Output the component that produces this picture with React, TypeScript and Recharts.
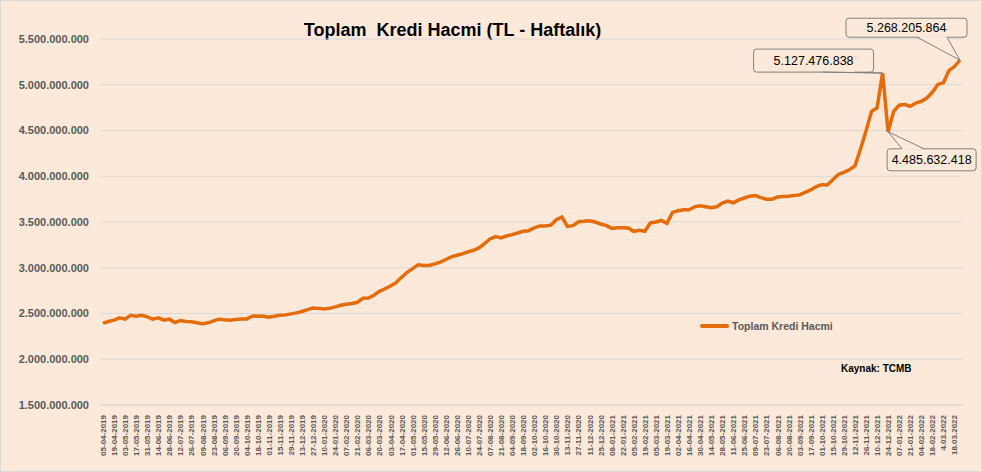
import { CartesianGrid, Line, LineChart, ReferenceDot, XAxis, YAxis } from "recharts";

const weeks2019 = "05-04 12-04 19-04 26-04 03-05 10-05 17-05 24-05 31-05 07-06 14-06 21-06 28-06 05-07 12-07 19-07 26-07 02-08 09-08 16-08 23-08 30-08 06-09 13-09 20-09 27-09 04-10 11-10 18-10 25-10 01-11 08-11 15-11 22-11 29-11 06-12 13-12 20-12 27-12"
  .split(" ")
  .map((d) => `${d}-2019`);
const weeks2020 = "03-01 10-01 17-01 24-01 31-01 07-02 14-02 21-02 28-02 06-03 13-03 20-03 27-03 03-04 10-04 17-04 24-04 01-05 08-05 15-05 22-05 29-05 05-06 12-06 19-06 26-06 03-07 10-07 17-07 24-07 31-07 07-08 14-08 21-08 28-08 04-09 11-09 18-09 25-09 02-10 09-10 16-10 23-10 30-10 06-11 13-11 20-11 27-11 04-12 11-12 18-12 25-12"
  .split(" ")
  .map((d) => `${d}-2020`);
const weeks2021 = "01-01 08-01 15-01 22-01 29-01 05-02 12-02 19-02 26-02 05-03 12-03 19-03 26-03 02-04 09-04 16-04 23-04 30-04 07-05 14-05 21-05 28-05 04-06 11-06 18-06 25-06 02-07 09-07 16-07 23-07 30-07 06-08 13-08 20-08 27-08 03-09 10-09 17-09 24-09 01-10 08-10 15-10 22-10 29-10 05-11 12-11 19-11 26-11 03-12 10-12 17-12 24-12 31-12"
  .split(" ")
  .map((d) => `${d}-2021`);
const weeks2022 = [
  "07-01-2022", "14-01-2022", "21-01-2022", "28-01-2022", "04-02-2022", "11-02-2022",
  "18-02-2022", "25-02-2022", "4.03.2022", "11.03.2022", "18.03.2022", "25.03.2022",
];
const dates = [...weeks2019, ...weeks2020, ...weeks2021, ...weeks2022];

// toplam kredi hacmi, milyar TL
const creditBn = [
  2.395, 2.413, 2.427, 2.452, 2.438, 2.481, 2.47, 2.481, 2.463, 2.438,
  2.452, 2.427, 2.438, 2.402, 2.424, 2.413, 2.409, 2.398, 2.387, 2.398,
  2.42, 2.438, 2.431, 2.427, 2.434, 2.441, 2.441, 2.47, 2.474, 2.47,
  2.46, 2.47, 2.481, 2.485, 2.496, 2.507, 2.522, 2.543, 2.56, 2.556,
  2.55, 2.558, 2.572, 2.59, 2.6, 2.61, 2.623, 2.666, 2.67, 2.7,
  2.742, 2.77, 2.8, 2.837, 2.895, 2.95, 2.99, 3.033, 3.025, 3.025,
  3.043, 3.061, 3.09, 3.12, 3.137, 3.152, 3.174, 3.191, 3.217, 3.264,
  3.315, 3.34, 3.326, 3.348, 3.362, 3.38, 3.398, 3.405, 3.435, 3.457,
  3.457, 3.465, 3.525, 3.554, 3.452, 3.46, 3.503, 3.507, 3.514, 3.5,
  3.478, 3.463, 3.43, 3.438, 3.438, 3.434, 3.398, 3.41, 3.398, 3.49,
  3.5, 3.517, 3.485, 3.605, 3.623, 3.634, 3.634, 3.666, 3.677, 3.666,
  3.655, 3.666, 3.706, 3.728, 3.71, 3.742, 3.762, 3.782, 3.789, 3.767,
  3.749, 3.749, 3.774, 3.778, 3.782, 3.789, 3.796, 3.825, 3.85, 3.886,
  3.908, 3.905, 3.962, 4.02, 4.042, 4.071, 4.114, 4.295, 4.494, 4.71,
  4.747, 5.127476838, 4.485632418, 4.71, 4.776, 4.783, 4.765, 4.8, 4.819, 4.855,
  4.917, 5.004, 5.022, 5.155, 5.199, 5.268205864,
];

const yTicks = [1.5e9, 2e9, 2.5e9, 3e9, 3.5e9, 4e9, 4.5e9, 5e9, 5.5e9];
const calloutIndexes = [155, 141, 142];

const BG = "#FDE9D9";
const ORANGE = "#E46C0A";
const GREY = "#595959";
const FONT = "'Liberation Sans', Arial, sans-serif";

const data = dates.map((d, i) => ({ date: d, value: Math.round(creditBn[i] * 1e9) }));

const fmt = (v: number) => String(Math.round(v)).replace(/\B(?=(\d{3})+(?!\d))/g, ".");

function DateTick({ x, y, payload }: any) {
  return (
    <g transform={`translate(${x},${y})`}>
      <text
        transform="rotate(-90)"
        x={-2}
        dy={3}
        textAnchor="end"
        fontSize={8}
        fontWeight="bold"
        fill={GREY}
        fontFamily={FONT}
      >
        {payload.value}
      </text>
    </g>
  );
}

// callout box layout relative to its point: box x/y range, pointer base on edge
const calloutLayout: Record<number, { bx: number[]; by: number[]; base: number[]; edge: "top" | "bottom" }> = {
  155: { bx: [-114, 7], by: [-42, -23], base: [-43, -13], edge: "bottom" },
  141: { bx: [-129, -9], by: [-24, -1], base: [-60, -28], edge: "bottom" },
  142: { bx: [-1, 88], by: [17, 39], base: [14, 36], edge: "top" },
};

function Callout({ cx, cy, idx }: any) {
  const l = calloutLayout[idx];
  const x0 = cx + l.bx[0];
  const x1 = cx + l.bx[1];
  const y0 = cy + l.by[0];
  const y1 = cy + l.by[1];
  const ey = l.edge === "bottom" ? y1 : y0;
  const inner = l.edge === "bottom" ? -1 : 1;
  return (
    <g>
      <rect x={x0} y={y0} width={x1 - x0} height={y1 - y0} rx={3} fill={BG} stroke="#7f7f7f" />
      <polygon
        points={`${cx + l.base[0]},${ey + inner} ${cx + l.base[1]},${ey + inner} ${cx},${cy}`}
        fill={BG}
      />
      <polyline
        points={`${cx + l.base[0]},${ey} ${cx},${cy} ${cx + l.base[1]},${ey}`}
        fill="none"
        stroke="#7f7f7f"
      />
      <text
        x={(x0 + x1) / 2}
        y={(y0 + y1) / 2 + 4.5}
        textAnchor="middle"
        fontSize={12.5}
        fill="#000"
        fontFamily={FONT}
      >
        {fmt(data[idx].value)}
      </text>
    </g>
  );
}

export default function App() {
  return (
    <div
      style={{
        position: "absolute",
        left: 0,
        top: 0,
        width: 982,
        height: 472,
        background: BG,
        boxSizing: "border-box",
        border: "1px solid #d9d9d9",
        fontFamily: FONT,
      }}
    >
      <div
        style={{
          position: "absolute",
          left: 0,
          width: 903,
          top: 19,
          textAlign: "center",
          fontSize: 18,
          fontWeight: "bold",
          color: "#000",
          whiteSpace: "pre",
        }}
      >
        {"Toplam  Kredi Hacmi (TL - Haftalık)"}
      </div>
      <div style={{ position: "absolute", left: 0, top: 0 }}>
        <LineChart width={980} height={470} data={data} margin={{ top: 38, right: 18, left: -1, bottom: 0 }}>
          <CartesianGrid horizontal vertical={false} stroke="#d9d9d9" />
          <XAxis
            dataKey="date"
            interval={1}
            tick={<DateTick />}
            tickLine={false}
            axisLine={{ stroke: "#d9d9d9" }}
            height={66}
            padding={{ left: 3, right: 3 }}
          />
          <YAxis
            domain={[1.5e9, 5.5e9]}
            ticks={yTicks}
            tickFormatter={fmt}
            width={100}
            axisLine={false}
            tickLine={false}
            tickMargin={5}
            tick={{ fontSize: 11, fontWeight: "bold", fill: GREY, fontFamily: FONT }}
          />
          <Line
            type="linear"
            dataKey="value"
            stroke={ORANGE}
            strokeWidth={3.5}
            dot={false}
            isAnimationActive={false}
          />
          {calloutIndexes.map((i) => (
            <ReferenceDot
              key={i}
              x={dates[i]}
              y={data[i].value}
              ifOverflow="visible"
              shape={(p: any) => <Callout {...p} idx={i} />}
            />
          ))}
        </LineChart>
      </div>
      <div style={{ position: "absolute", left: 699, top: 319, display: "flex", alignItems: "center" }}>
        <div style={{ width: 29, height: 4, background: ORANGE, borderRadius: 2, marginRight: 3 }} />
        <span style={{ fontSize: 10.5, fontWeight: "bold", color: GREY }}>Toplam Kredi Hacmi</span>
      </div>
      <div style={{ position: "absolute", left: 840, top: 362, fontSize: 10, fontWeight: "bold", color: "#000" }}>
        Kaynak: TCMB
      </div>
    </div>
  );
}
